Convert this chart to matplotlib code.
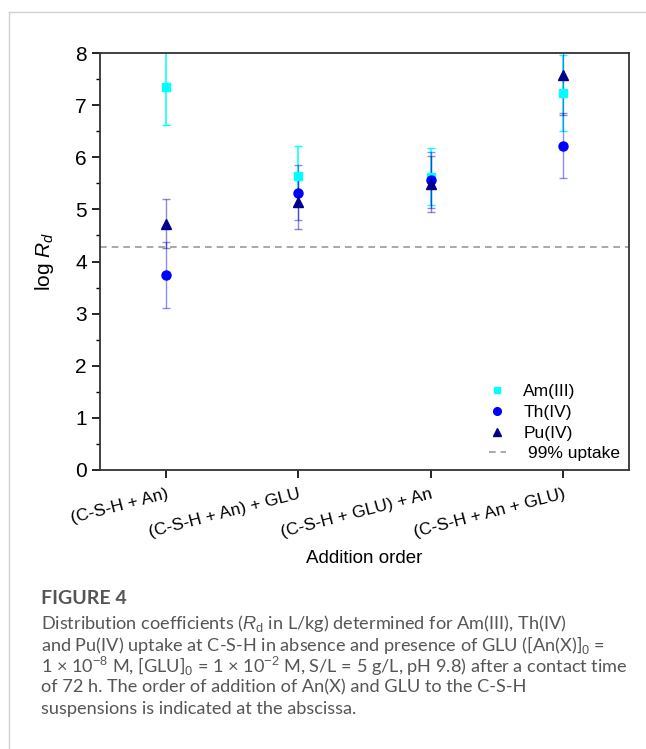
"""
Distribution coefficients of Am(III), Th(IV) and Pu(IV) on C-S-H for different addition orders.
"""

import matplotlib
matplotlib.use('Agg')
import matplotlib.pyplot as plt
from matplotlib.lines import Line2D
import numpy as np

# data
orders = ['(C-S-H + An)', '(C-S-H + An) + GLU', '(C-S-H + GLU) + An', '(C-S-H + An + GLU)']
am = [7.34, 5.65, 5.63, 7.24]
am_err = [0.73, 0.56, 0.54, 0.73]
th = [3.74, 5.32, 5.57, 6.22]
th_err = [0.63, 0.53, 0.54, 0.62]
pu = [4.72, 5.14, 5.49, 7.57]
pu_err = [0.47, 0.52, 0.54, 0.75]
uptake_99 = 4.27

caption_title = 'FIGURE 4'
caption_lines = [
    r'Distribution coefficients ($R_\mathrm{d}$ in L/kg) determined for Am(III), Th(IV)',
    r'and Pu(IV) uptake at C-S-H in absence and presence of GLU ([An(X)]$_0$ =',
    r'1 × 10$^{-8}$ M, [GLU]$_0$ = 1 × 10$^{-2}$ M, S/L = 5 g/L, pH 9.8) after a contact time',
    'of 72 h. The order of addition of An(X) and GLU to the C-S-H',
    'suspensions is indicated at the abscissa.',
]

plt.rcParams['font.family'] = ['Liberation Sans', 'DejaVu Sans']
plt.rcParams['mathtext.fontset'] = 'custom'
plt.rcParams['mathtext.rm'] = 'Liberation Sans'
plt.rcParams['mathtext.it'] = 'Liberation Sans:italic'

fig = plt.figure(figsize=(6.46, 7.49), dpi=100)
ax = fig.add_axes([0.1548, 0.3725, 0.8189, 0.5567])

x = np.arange(1, len(orders) + 1)

# error bars first, markers on top
ax.errorbar(x, am, yerr=am_err, fmt='none', ecolor='#00ffff', elinewidth=1.1, capsize=3, capthick=1)
ax.errorbar(x, th, yerr=th_err, fmt='none', ecolor='#0000ff', alpha=0.45, elinewidth=1.0, capsize=3, capthick=1)
ax.errorbar(x, pu, yerr=pu_err, fmt='none', ecolor='#00008b', alpha=0.45, elinewidth=1.0, capsize=3, capthick=1)

ax.plot(x, am, ls='none', marker='s', ms=5.5, color='#00ffff', label='Am(III)')
ax.plot(x, th, ls='none', marker='o', ms=6.5, color='#0000ff', label='Th(IV)')
ax.plot(x, pu, ls='none', marker='^', ms=6.5, color='#00008b', label='Pu(IV)')
ax.axhline(uptake_99, color='#999999', ls='--', lw=1.2, dashes=(4, 3), label=' 99% uptake')

ax.set_xlim(0.5, 4.5)
ax.set_ylim(0, 8)
ax.set_yticks(np.arange(0, 9, 1))
ax.set_yticks(np.arange(0, 8.01, 0.5), minor=True)
ax.set_xticks(x)
ax.set_xticklabels(orders, rotation=14.5, ha='right', va='top', rotation_mode='anchor', fontsize=12.5)
ax.tick_params(axis='y', which='major', labelsize=15, length=6, width=1.2, direction='out')
ax.tick_params(axis='y', which='minor', length=3, width=1, direction='out')
ax.tick_params(axis='x', length=6, width=1.2, direction='out', pad=6)
for sp in ax.spines.values():
    sp.set_linewidth(1.3)
    sp.set_color('#333333')

ax.set_ylabel(r'log $R_d$', fontsize=15, labelpad=14)
ax.set_xlabel('Addition order', fontsize=13.5, labelpad=7)

ax.legend(loc='lower right', frameon=False, fontsize=12.5, handlelength=1.0,
          handletextpad=1.0, labelspacing=0.32, borderaxespad=0.1, markerscale=0.85,
          bbox_to_anchor=(1.0, 0.0))

# caption
fig.text(41 / 646, 1 - 598 / 749, caption_title, fontsize=14, color='#555555',
         family=['Lato', 'DejaVu Sans'], weight='bold', va='center', ha='left')
for i, line in enumerate(caption_lines):
    fig.text(41 / 646, 1 - (623 + 21.5 * i) / 749, line, fontsize=13.1, color='#555555',
             family=['Lato', 'DejaVu Sans'], va='center', ha='left')

# light page frame
fig.add_artist(Line2D([9 / 646, 9 / 646], [0, 1 - 12 / 749], transform=fig.transFigure,
                      color='#d0d0d0', lw=1))
fig.add_artist(Line2D([9 / 646, 1], [1 - 12 / 749, 1 - 12 / 749], transform=fig.transFigure,
                      color='#d0d0d0', lw=1))

fig.savefig('out.png', dpi=100)
